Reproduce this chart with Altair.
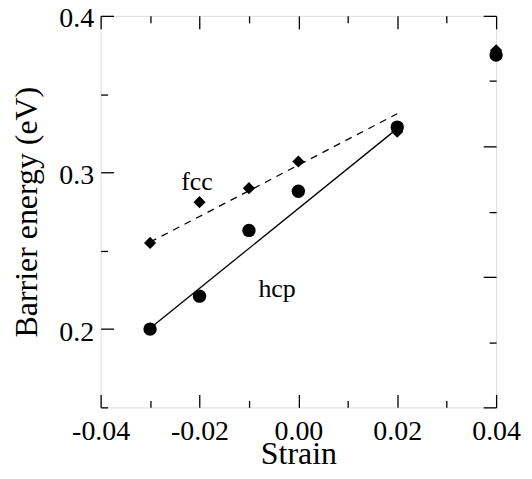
import altair as alt
import pandas as pd

# ---- data ----
strain_hcp = [-0.03, -0.02, -0.01, 0.00, 0.02, 0.04]
energy_hcp = [0.200, 0.221, 0.263, 0.288, 0.329, 0.375]
strain_fcc = [-0.03, -0.02, -0.01, 0.00, 0.02, 0.04]
energy_fcc = [0.255, 0.281, 0.290, 0.307, 0.326, 0.378]

fit_hcp_x = [-0.03, 0.02]
fit_hcp_y = [0.2005, 0.3280]
fit_fcc_x = [-0.03, 0.02]
fit_fcc_y = [0.2555, 0.3375]

label_text = ["fcc", "hcp"]
label_x = [-0.0205, -0.0043]
label_y = [0.2885, 0.2206]

x_major = [-0.04, -0.02, 0.00, 0.02, 0.04]
x_minor = [-0.03, -0.01, 0.01, 0.03]
y_major = [0.2, 0.3, 0.4]
y_minor = [0.15, 0.25, 0.35]
right_major = [0, 2, 4, 6]
right_minor = [1, 3, 5]

# ---- layout ----
W, H = 397, 393
XD = [-0.04, 0.04]
YD = [0.15, 0.40]
FONT = "Liberation Serif"
MAJ, MIN = 13, 7


def xscale():
    return alt.Scale(domain=XD, nice=False, zero=False)


def yscale(domain=YD):
    return alt.Scale(domain=domain, nice=False, zero=False)


def tick_axis(orient, values, size):
    off = -H if orient in ("top", "bottom") else -W
    return alt.Axis(orient=orient, offset=off, values=values, tickSize=size,
                    tickColor="black", tickWidth=1.3, labels=False,
                    domain=False, grid=False, title=None)


main_x_axis = alt.Axis(
    orient="bottom", values=x_major, format=".2f",
    labelExpr="replace(datum.label, '\u2212', '-')",
    labelFont=FONT, labelFontSize=28, labelColor="black",
    labelBaseline="alphabetic", labelPadding=32, labelFlush=False,
    ticks=False, tickSize=0, domain=False, grid=False,
    title="Strain", titleFont=FONT, titleFontSize=32, titleFontWeight="normal",
    titleColor="black", titleBaseline="alphabetic", titleY=56,
)
main_y_axis = alt.Axis(
    orient="left", values=y_major, format=".1f",
    labelFont=FONT, labelFontSize=28, labelColor="black",
    labelBaseline="alphabetic", labelOffset=11, labelPadding=7, labelFlush=False,
    ticks=False, tickSize=0, domain=False, grid=False,
    title="Barrier energy (eV)", titleFont=FONT, titleFontSize=32,
    titleFontWeight="normal", titleColor="black", titleAngle=270,
    titleBaseline="alphabetic", titleAlign="center", titleX=-64, titleY=H / 2,
)

df_hcp = pd.DataFrame({"x": strain_hcp, "y": energy_hcp})
df_fcc = pd.DataFrame({"x": strain_fcc, "y": energy_fcc})
df_fit_hcp = pd.DataFrame({"x": fit_hcp_x, "y": fit_hcp_y})
df_fit_fcc = pd.DataFrame({"x": fit_fcc_x, "y": fit_fcc_y})
df_lab = pd.DataFrame({"x": label_x, "y": label_y, "t": label_text})
df_rmaj = pd.DataFrame({"r": right_major})
df_rmin = pd.DataFrame({"r": right_minor})

fcc_line = alt.Chart(df_fit_fcc).mark_line(
    color="black", strokeWidth=1.3, strokeDash=[7, 6]
).encode(
    x=alt.X("x:Q", scale=xscale(), axis=tick_axis("top", x_minor, MIN)),
    y=alt.Y("y:Q", scale=yscale(), axis=tick_axis("right", y_minor, MIN)),
)

hcp_line = alt.Chart(df_fit_hcp).mark_line(
    color="black", strokeWidth=1.3
).encode(
    x=alt.X("x:Q", scale=xscale(), axis=tick_axis("bottom", x_major, MAJ)),
    y=alt.Y("y:Q", scale=yscale(), axis=None),
)

fcc_pts = alt.Chart(df_fcc).mark_point(
    shape="diamond", filled=True, color="black", size=150, opacity=1
).encode(
    x=alt.X("x:Q", scale=xscale(), axis=tick_axis("top", x_major, MAJ)),
    y=alt.Y("y:Q", scale=yscale(), axis=tick_axis("right", y_major, MAJ)),
)

hcp_pts = alt.Chart(df_hcp).mark_point(
    shape="circle", filled=True, color="black", size=180, opacity=1
).encode(
    x=alt.X("x:Q", scale=xscale(), axis=main_x_axis),
    y=alt.Y("y:Q", scale=yscale(), axis=main_y_axis),
)

labels = alt.Chart(df_lab).mark_text(
    font=FONT, fontSize=26, color="black", align="center", baseline="alphabetic"
).encode(
    x=alt.X("x:Q", scale=xscale(), axis=tick_axis("bottom", x_minor, MIN)),
    y=alt.Y("y:Q", scale=yscale(), axis=None),
    text="t:N",
)

right_maj = alt.Chart(df_rmaj).mark_point(opacity=0).encode(
    y=alt.Y("r:Q", scale=yscale([0, 6]), axis=tick_axis("left", right_major, MAJ)),
)
right_min = alt.Chart(df_rmin).mark_point(opacity=0).encode(
    y=alt.Y("r:Q", scale=yscale([0, 6]), axis=tick_axis("left", right_minor, MIN)),
)

chart = alt.layer(
    fcc_line, hcp_line, fcc_pts, hcp_pts, labels, right_maj, right_min
).resolve_scale(
    y="independent"
).resolve_axis(
    x="independent", y="independent"
).properties(
    width=W, height=H,
    autosize=alt.AutoSizeParams(type="none"),
    padding={"left": 93, "top": 7, "right": 28, "bottom": 68},
).configure_view(
    stroke="black", strokeWidth=1.5
).configure(background="white")

chart.save("out.html", embed_options={"renderer": "svg", "actions": False})
